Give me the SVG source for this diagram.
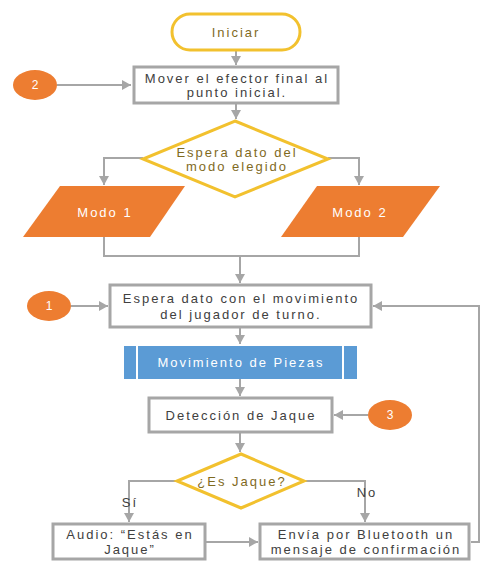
<svg xmlns="http://www.w3.org/2000/svg" width="497" height="572" viewBox="0 0 497 572">
<style>
.t{font-family:"Liberation Sans",Arial,sans-serif;font-size:13px;letter-spacing:2px;fill:#404040;text-anchor:middle;dominant-baseline:central}
.ty{fill:#7F6A1E}
.tw{fill:#ffffff}
.box{fill:#ffffff;stroke:#A6A6A6;stroke-width:3}
.yel{fill:#ffffff;stroke:#F2C12E;stroke-width:3}
.org{fill:#ED7D31}
.c{fill:none;stroke:#A6A6A6;stroke-width:2}
.n{font-family:"Liberation Sans",Arial,sans-serif;font-size:12px;fill:#ffffff;text-anchor:middle;dominant-baseline:central}
</style>
<defs>
<marker id="a" markerUnits="userSpaceOnUse" markerWidth="12" markerHeight="12" refX="9" refY="5" orient="auto">
<path d="M0,0 L9,5 L0,10 Z" fill="#A6A6A6"/>
</marker>
</defs>
<rect width="497" height="572" fill="#ffffff"/>
<g id="connectors">
<path class="c" d="M236,50 V65" marker-end="url(#a)"/>
<path class="c" d="M57,85 H131" marker-end="url(#a)"/>
<path class="c" d="M236,103 V119" marker-end="url(#a)"/>
<path class="c" d="M143,158 H104 V185" marker-end="url(#a)"/>
<path class="c" d="M328,158 H359 V185" marker-end="url(#a)"/>
<path class="c" d="M104,237 V256 H359 V237"/>
<path class="c" d="M240,256 V283" marker-end="url(#a)"/>
<path class="c" d="M71,306 H108" marker-end="url(#a)"/>
<path class="c" d="M240,328 V344" marker-end="url(#a)"/>
<path class="c" d="M240,379 V396" marker-end="url(#a)"/>
<path class="c" d="M368,415 H334" marker-end="url(#a)"/>
<path class="c" d="M240,433 V452" marker-end="url(#a)"/>
<path class="c" d="M177,481 H129 V522" marker-end="url(#a)"/>
<path class="c" d="M304,481 H365 V522" marker-end="url(#a)"/>
<path class="c" d="M206,542 H258" marker-end="url(#a)"/>
<path class="c" d="M471,542 H479 V306 H373" marker-end="url(#a)"/>
</g>
<g id="iniciar">
<rect class="yel" x="172" y="14" width="128" height="36" rx="18"/>
<text class="t ty" x="236" y="32">Iniciar</text>
</g>
<g id="c2">
<ellipse class="org" cx="35" cy="85" rx="22" ry="15"/>
<text class="n" x="35" y="85">2</text>
</g>
<g id="mover">
<rect class="box" x="134" y="67" width="204" height="36"/>
<text class="t" x="237" y="78">Mover el efector final al</text>
<text class="t" x="237" y="92">punto inicial.</text>
</g>
<g id="modo-dec">
<polygon class="yel" points="235,121 328,159 235,197 143,159"/>
<text class="t ty" x="237" y="152">Espera dato del</text>
<text class="t ty" x="237" y="166">modo elegido</text>
</g>
<g id="modo1">
<polygon class="org" points="60,186 185,186 150,237 23,237"/>
<text class="t tw" x="105" y="212">Modo 1</text>
</g>
<g id="modo2">
<polygon class="org" points="317,186 440,186 403,237 281,237"/>
<text class="t tw" x="360" y="212">Modo 2</text>
</g>
<g id="c1">
<ellipse class="org" cx="49" cy="306" rx="22" ry="15"/>
<text class="n" x="49" y="306">1</text>
</g>
<g id="espera">
<rect class="box" x="110" y="285" width="261" height="42"/>
<text class="t" x="241" y="298">Espera dato con el movimiento</text>
<text class="t" x="241" y="314">del jugador de turno.</text>
</g>
<g id="movimiento">
<rect x="124" y="346" width="233" height="33" fill="#5B9BD5"/>
<path d="M137,346 V379 M343,346 V379" stroke="#ffffff" stroke-width="2"/>
<text class="t tw" x="241" y="362">Movimiento de Piezas</text>
</g>
<g id="deteccion">
<rect class="box" x="149" y="398" width="183" height="34"/>
<text class="t" x="241" y="415">Detección de Jaque</text>
</g>
<g id="c3">
<ellipse class="org" cx="390" cy="415" rx="22" ry="15"/>
<text class="n" x="390" y="415">3</text>
</g>
<g id="esjaque">
<polygon class="yel" points="241,454 304,481 241,508 177,481"/>
<text class="t ty" x="242" y="481">¿Es Jaque?</text>
</g>
<g id="labels">
<text class="t" x="130" y="502">Sí</text>
<text class="t" x="367" y="492">No</text>
</g>
<g id="audio">
<rect class="box" x="53" y="524" width="152" height="35"/>
<text class="t" x="130" y="534">Audio: “Estás en</text>
<text class="t" x="130" y="549">Jaque”</text>
</g>
<g id="envia">
<rect class="box" x="260" y="524" width="209" height="35"/>
<text class="t" x="366" y="534">Envía por Bluetooth un</text>
<text class="t" x="366" y="549">mensaje de confirmación</text>
</g>
</svg>
